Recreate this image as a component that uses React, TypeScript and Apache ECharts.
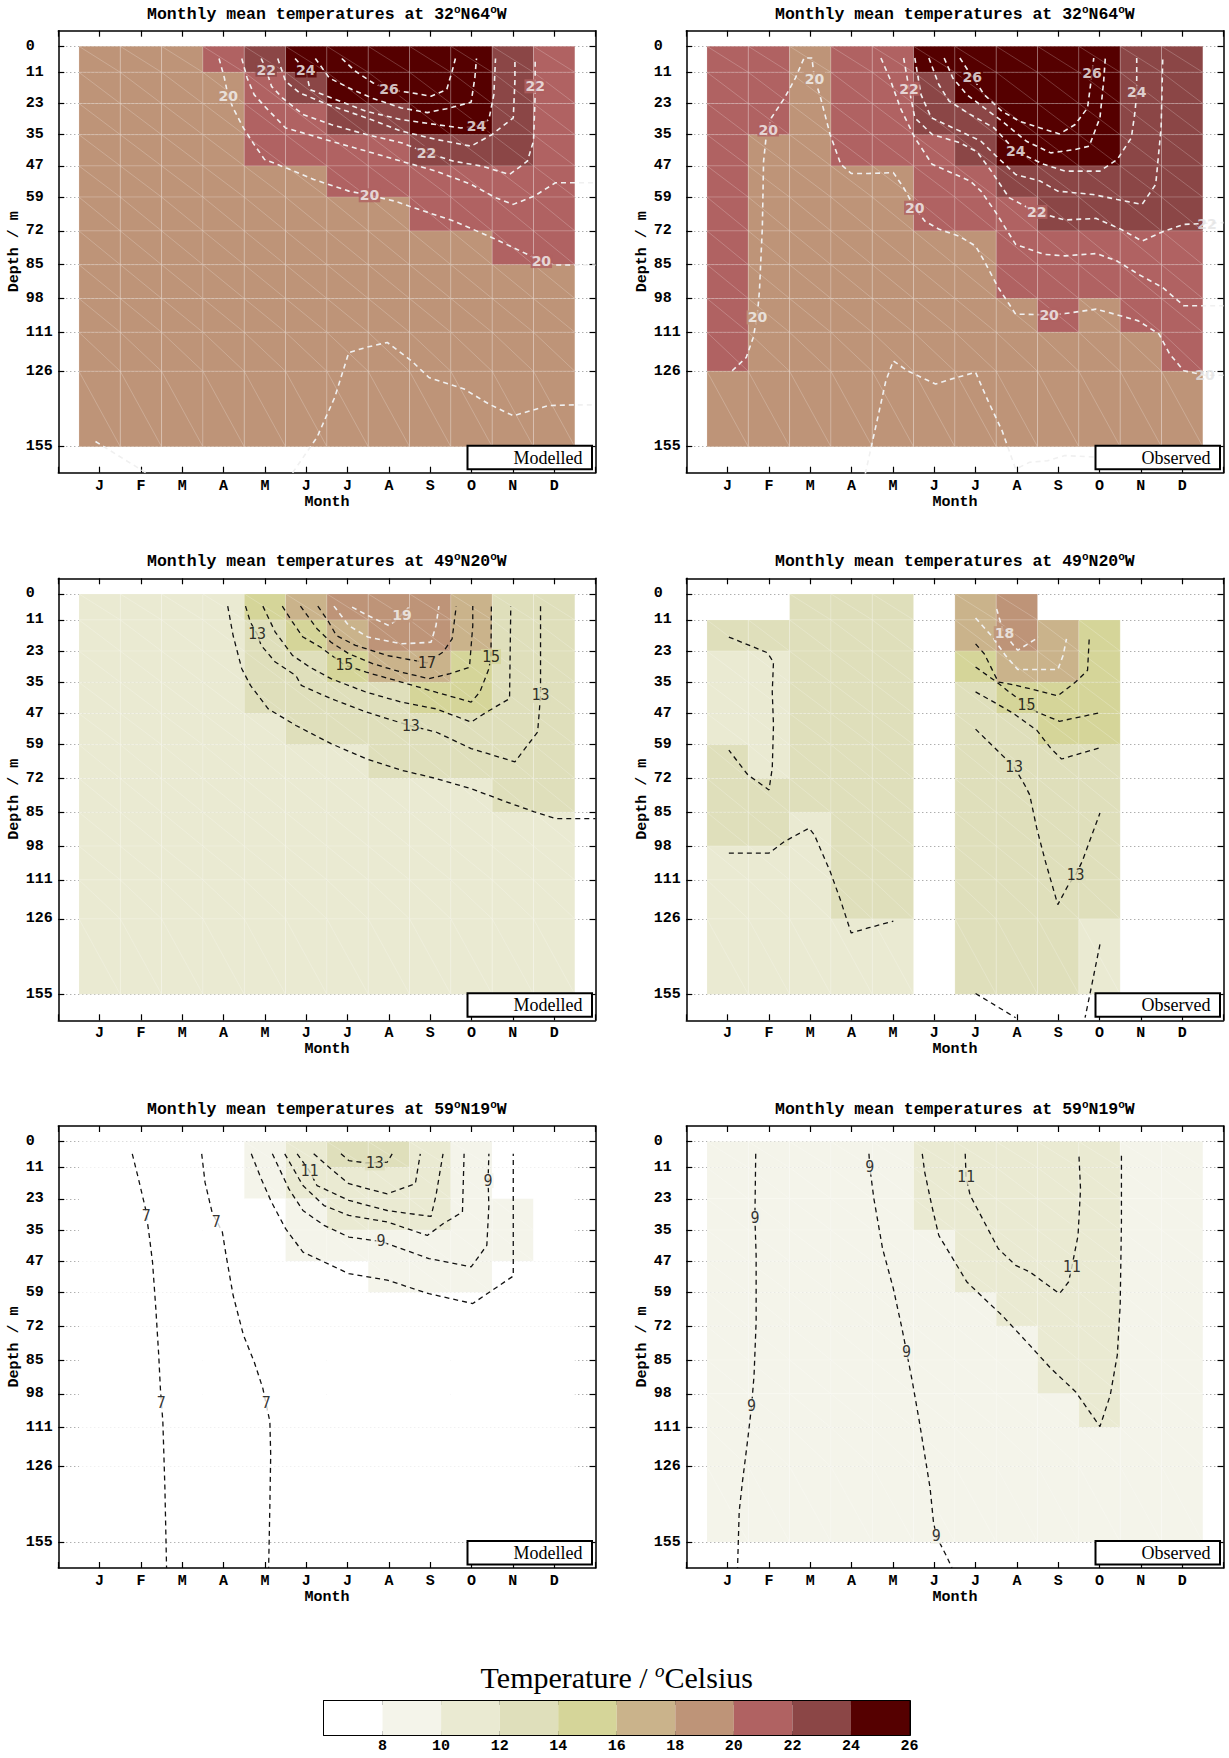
import React, { useEffect, useRef } from 'react';
import * as echarts from 'echarts';

// ---------------- data ----------------
const MONTHS = ['J', 'F', 'M', 'A', 'M', 'J', 'J', 'A', 'S', 'O', 'N', 'D'];
const DEPTH_LEVELS = [1, 11, 23, 35, 47, 59, 72, 85, 98, 111, 126, 155];
const DEPTH_TICK_LABELS = ['0', '11', '23', '35', '47', '59', '72', '85', '98', '111', '126', '155'];
const LEGEND_BREAKS = [6, 8, 10, 12, 14, 16, 18, 20, 22, 24, 26];
const LEGEND_COLORS = ['#ffffff', '#f4f4ea', '#eaead2', '#dfdfbb', '#d5d599', '#cab38b', '#be9478', '#b06262', '#8b4646', '#550000'];
const STATIONS = [['32', '64'], ['49', '20'], ['59', '19']];
const KINDS = ['Modelled', 'Observed'];

// cell temperatures (rows: depth layers top->bottom, cols: J..D), null = no data
const P1_CELLS = [
  [19, 19, 19, 21, 23, 25, 25, 25, 25, 25, 23, 21],
  [19, 19, 19, 19, 21, 23, 25, 25, 25, 25, 23, 21],
  [19, 19, 19, 19, 21, 21, 23, 23, 25, 25, 23, 21],
  [19, 19, 19, 19, 21, 21, 21, 21, 23, 23, 23, 21],
  [19, 19, 19, 19, 19, 19, 21, 21, 21, 21, 21, 21],
  [19, 19, 19, 19, 19, 19, 19, 19, 21, 21, 21, 21],
  [19, 19, 19, 19, 19, 19, 19, 19, 19, 19, 21, 21],
  [19, 19, 19, 19, 19, 19, 19, 19, 19, 19, 19, 19],
  [19, 19, 19, 19, 19, 19, 19, 19, 19, 19, 19, 19],
  [19, 19, 19, 19, 19, 19, 19, 19, 19, 19, 19, 19],
  [19, 19, 19, 19, 19, 19, 19, 19, 19, 19, 19, 19],
];
const P2_CELLS = [
  [21, 21, 19, 21, 21, 25, 25, 25, 25, 25, 23, 23],
  [21, 21, 19, 21, 21, 23, 25, 25, 25, 25, 23, 23],
  [21, 21, 19, 21, 21, 23, 23, 25, 25, 25, 23, 23],
  [21, 19, 19, 21, 21, 21, 23, 25, 25, 25, 23, 23],
  [21, 19, 19, 19, 19, 21, 21, 23, 23, 23, 23, 23],
  [21, 19, 19, 19, 19, 21, 21, 21, 23, 23, 23, 23],
  [21, 19, 19, 19, 19, 19, 19, 21, 21, 21, 21, 21],
  [21, 19, 19, 19, 19, 19, 19, 21, 21, 21, 21, 21],
  [21, 19, 19, 19, 19, 19, 19, 19, 21, 19, 21, 21],
  [21, 19, 19, 19, 19, 19, 19, 19, 19, 19, 19, 21],
  [19, 19, 19, 19, 19, 19, 19, 19, 19, 19, 19, 19],
];
const P3_CELLS = [
  [11, 11, 11, 11, 15, 17, 19, 19, 19, 17, 13, 13],
  [11, 11, 11, 11, 13, 15, 17, 19, 19, 17, 13, 13],
  [11, 11, 11, 11, 13, 13, 15, 17, 17, 15, 13, 13],
  [11, 11, 11, 11, 13, 13, 13, 13, 15, 15, 13, 13],
  [11, 11, 11, 11, 11, 13, 13, 13, 13, 13, 13, 13],
  [11, 11, 11, 11, 11, 11, 11, 13, 13, 13, 13, 13],
  [11, 11, 11, 11, 11, 11, 11, 11, 11, 11, 13, 13],
  [11, 11, 11, 11, 11, 11, 11, 11, 11, 11, 11, 11],
  [11, 11, 11, 11, 11, 11, 11, 11, 11, 11, 11, 11],
  [11, 11, 11, 11, 11, 11, 11, 11, 11, 11, 11, 11],
  [11, 11, 11, 11, 11, 11, 11, 11, 11, 11, 11, 11],
];
const P4_CELLS = [
  [null, null, 13, 13, 13, null, 17, 19, null, null, null, null],
  [13, 13, 13, 13, 13, null, 17, 19, 17, 15, null, null],
  [11, 11, 13, 13, 13, null, 15, 17, 17, 15, null, null],
  [11, 11, 13, 13, 13, null, 13, 15, 15, 15, null, null],
  [11, 11, 13, 13, 13, null, 13, 13, 15, 15, null, null],
  [13, 11, 13, 13, 13, null, 13, 13, 13, 13, null, null],
  [13, 13, 13, 13, 13, null, 13, 13, 13, 13, null, null],
  [13, 13, 11, 13, 13, null, 13, 13, 13, 13, null, null],
  [11, 11, 11, 13, 13, null, 13, 13, 13, 13, null, null],
  [11, 11, 11, 13, 13, null, 13, 13, 13, 13, null, null],
  [11, 11, 11, 11, 11, null, 13, 13, 13, 11, null, null],
];
const P5_CELLS = [
  [7, 7, 7, 7, 9, 11, 13, 13, 11, 9, 7, 7],
  [7, 7, 7, 7, 9, 11, 11, 11, 11, 9, 7, 7],
  [7, 7, 7, 7, 7, 9, 11, 11, 11, 9, 9, 7],
  [7, 7, 7, 7, 7, 9, 9, 9, 9, 9, 9, 7],
  [7, 7, 7, 7, 7, 7, 7, 9, 9, 9, 7, 7],
  [7, 7, 7, 7, 7, 7, 7, 7, 7, 7, 7, 7],
  [7, 7, 7, 7, 7, 7, 7, 7, 7, 7, 7, 7],
  [7, 7, 7, 7, 7, 7, 7, 7, 7, 7, 7, 7],
  [7, 7, 7, 7, 7, 7, 7, 7, 7, 7, 7, 7],
  [7, 7, 7, 7, 7, 7, 7, 7, 7, 7, 7, 7],
  [7, 7, 7, 7, 7, 7, 7, 7, 7, 7, 7, 7],
];
const P6_CELLS = [
  [9, 9, 9, 9, 9, 11, 11, 11, 11, 11, 9, 9],
  [9, 9, 9, 9, 9, 11, 11, 11, 11, 11, 9, 9],
  [9, 9, 9, 9, 9, 11, 11, 11, 11, 11, 9, 9],
  [9, 9, 9, 9, 9, 9, 11, 11, 11, 11, 9, 9],
  [9, 9, 9, 9, 9, 9, 11, 11, 11, 11, 9, 9],
  [9, 9, 9, 9, 9, 9, 9, 11, 11, 11, 9, 9],
  [9, 9, 9, 9, 9, 9, 9, 9, 11, 11, 9, 9],
  [9, 9, 9, 9, 9, 9, 9, 9, 11, 11, 9, 9],
  [9, 9, 9, 9, 9, 9, 9, 9, 9, 11, 9, 9],
  [9, 9, 9, 9, 9, 9, 9, 9, 9, 9, 9, 9],
  [9, 9, 9, 9, 9, 9, 9, 9, 9, 9, 9, 9],
];

// contour lines: [month, depth] points
const P1_CONTOURS = [
  { level: 19, pts: [[0.9, 153], [2.12, 165]] },
  { level: 19, pts: [[5.67, 165], [6.26, 151.4], [6.69, 136], [7.03, 118.8], [7.45, 116.8], [7.96, 114.9], [8.55, 122], [8.97, 128.4], [9.82, 132.8], [10.42, 138.6], [11.01, 143.1], [11.86, 139.2], [12.53, 138.9], [13, 138.9]] },
  { level: 20, pts: [[3.89, 5.7], [4.02, 13.2], [4.11, 20.2], [4.23, 24.7], [4.48, 32.4], [4.74, 38.8], [4.99, 44.5], [5.5, 47.7], [6.18, 52.2], [7.03, 56.7], [7.53, 58.3], [8.13, 60.5], [8.72, 63.7], [9.57, 68.2], [10.5, 74.6], [11.18, 79.7], [11.69, 83.6], [12.03, 85.1], [13, 85.1]] },
  { level: 21, pts: [[4.44, 5.7], [4.57, 13.2], [4.74, 19.6], [5.03, 24.7], [5.5, 32.4], [5.92, 34.3], [6.6, 37.5], [7.45, 41.3], [8.3, 45.2], [9.14, 49], [9.99, 54.1], [10.58, 59.2], [11.01, 61.8], [11.52, 58.6], [12.03, 53.5], [13, 53.5]] },
  { level: 22, pts: [[4.91, 5.7], [5.03, 10], [5.16, 16.4], [5.42, 20.8], [5.92, 27.2], [6.6, 31.1], [7.45, 34.9], [8.3, 38.1], [8.93, 42], [9.57, 45.2], [10.25, 47.1], [10.92, 50.3], [11.35, 45.2], [11.5, 37.5], [11.54, 19.6], [11.54, 5.7]] },
  { level: 23, pts: [[5.31, 5.7], [5.5, 14.4], [5.84, 18.9], [6.52, 23.4], [7.45, 28.5], [8.3, 33.6], [9.14, 36.8], [9.99, 39.4], [10.5, 34.9], [11.01, 28.5], [11.05, 14.4], [11.05, 5.7]] },
  { level: 24, pts: [[5.73, 5.7], [5.99, 10.3], [6.09, 17.6], [6.6, 20.8], [7.45, 26], [8.3, 29.2], [9.14, 31.1], [9.74, 32.4], [10.12, 31.7], [10.42, 29.2], [10.54, 19.6], [10.58, 5.7]] },
  { level: 25, pts: [[6.22, 5.7], [6.56, 13.2], [7.11, 17.6], [7.62, 21.1], [8.3, 24.7], [8.93, 26.5], [9.4, 25], [9.99, 22.5], [10.08, 13.2], [10.12, 5.7]] },
  { level: 26, pts: [[6.86, 5.7], [7.19, 10.6], [7.62, 15.1], [8.0, 17.6], [8.55, 18.9], [9.02, 20.2], [9.4, 17.6], [9.53, 10.6], [9.61, 5.7]] },
];
const P1_LABELS = [
  [4.11, 20.2, '20'], [7.53, 58.3, '20'], [11.69, 83.6, '20'],
  [5.03, 10, '22'], [8.91, 42, '22'], [11.54, 16.4, '22'],
  [5.99, 10.3, '24'], [10.12, 31.7, '24'], [8.0, 17.6, '26'],
];

const P2_CONTOURS = [
  { level: 19, pts: [[4.33, 165.5], [4.58, 147.6], [4.83, 129.6], [5.01, 122], [5.35, 125.8], [6.03, 130.9], [6.54, 128.4], [7.0, 126.4], [7.3, 137.3], [7.64, 148.8], [7.97, 163.6], [8.31, 161], [8.74, 160.4], [9.16, 158.4], [10.01, 159.1]] },
  { level: 20, pts: [[1.11, 125.8], [1.45, 120.7], [1.62, 113], [1.72, 104.3], [1.77, 95], [1.84, 70.8], [1.87, 45.2], [1.93, 36.2], [1.98, 33], [2.06, 28.5], [2.38, 20.8], [2.64, 13.2], [2.85, 5.5], [3.04, 5.5], [3.1, 13.4], [3.23, 19.6], [3.48, 34.9], [3.74, 46.4], [3.99, 49.9], [4.41, 49.9], [5.01, 49.6], [5.26, 55.4], [5.53, 63.1], [5.77, 68.2], [6.12, 71.4], [6.6, 74], [7.0, 77.8], [7.21, 83.6], [7.55, 93.8], [7.97, 104], [8.78, 104.3], [9.16, 103.8], [9.92, 102.1], [10.43, 104.3], [10.94, 106.6], [11.44, 111.7], [11.7, 119.4], [12.04, 125.8], [12.55, 127.5], [13, 127.5]] },
  { level: 21, pts: [[4.71, 5.5], [4.92, 13.2], [5.18, 24.7], [5.53, 36.2], [5.95, 46.4], [6.87, 52.8], [7.13, 56.7], [7.47, 64.4], [7.97, 77.2], [8.65, 81], [9.16, 81.6], [9.92, 80.7], [10.43, 83.6], [10.94, 88.7], [11.53, 93.8], [12.04, 100.8], [13, 100.8]] },
  { level: 22, pts: [[5.26, 5.5], [5.39, 17.3], [5.53, 28.5], [5.95, 34.9], [6.62, 38.1], [7.04, 41.6], [7.38, 49], [7.81, 59.2], [8.46, 64.7], [9.16, 67.8], [9.92, 67.2], [10.52, 71.4], [11.03, 75.9], [11.53, 72.3], [12.04, 69.5], [13, 68.8]] },
  { level: 23, pts: [[5.53, 5.5], [5.68, 19.6], [5.93, 28.5], [6.62, 33.6], [7.13, 37.5], [7.55, 44], [7.97, 50.3], [8.56, 52.8], [8.99, 56.7], [9.84, 58], [10.43, 59.9], [11.03, 61.8], [11.36, 54.1], [11.49, 32.4], [11.53, 5.5]] },
  { level: 24, pts: [[5.87, 5.5], [6.11, 15.7], [6.36, 22.1], [6.87, 27.2], [7.45, 32.4], [7.97, 41.3], [8.65, 46.4], [9.16, 49], [10.01, 49], [10.43, 44.5], [10.77, 36.2], [10.86, 26], [10.9, 18.7], [10.9, 5.5]] },
  { level: 25, pts: [[6.24, 5.5], [6.45, 13.2], [6.79, 19.6], [7.21, 24.7], [7.64, 29.8], [8.23, 37.5], [8.82, 42], [9.41, 40.7], [9.75, 39.4], [10.01, 28.5], [10.1, 14.4], [10.14, 5.5]] },
  { level: 26, pts: [[6.62, 5.5], [6.92, 12.8], [7.21, 19.6], [7.64, 26], [8.06, 29.8], [8.57, 32.4], [9.03, 34.7], [9.41, 31.1], [9.71, 24.7], [9.82, 11.2], [9.86, 5.5]] },
];
const P2_LABELS = [
  [1.72, 105.3, '20'], [1.98, 33, '20'], [3.1, 13.4, '20'], [5.53, 63.1, '20'], [8.78, 104.3, '20'], [12.55, 127.5, '20'],
  [5.39, 17.3, '22'], [8.48, 64.7, '22'], [12.6, 69.2, '22'],
  [7.97, 41.3, '24'], [10.9, 18.7, '24'],
  [6.92, 12.8, '26'], [9.82, 11.2, '26'],
];

const P3_CONTOURS = [
  { level: 12, pts: [[4.1, 5.7], [4.23, 17], [4.44, 29.8], [4.65, 36.2], [5.08, 45.2], [5.75, 51.6], [6.6, 58.6], [7.45, 64.4], [8.3, 68.8], [9.14, 72], [9.99, 75.9], [10.84, 81], [11.52, 84.8], [12.03, 87.4], [13, 87.4]] },
  { level: 13, pts: [[4.53, 5.7], [4.65, 11.9], [4.81, 16.4], [4.91, 20.8], [5.25, 27.2], [5.75, 32.4], [5.88, 36.2], [6.6, 41.3], [7.45, 46.4], [8.53, 51.8], [9.14, 54.1], [9.99, 60.5], [11.05, 65.6], [11.6, 54.1], [11.67, 40], [11.67, 5.7]] },
  { level: 14, pts: [[4.95, 5.7], [5.25, 15.7], [5.67, 24.7], [6.09, 29.2], [6.6, 33.6], [7.45, 38.8], [8.3, 42.6], [9.14, 45.2], [9.99, 50.3], [10.37, 46.4], [10.92, 41.3], [10.95, 5.7]] },
  { level: 15, pts: [[5.42, 5.7], [5.67, 11.9], [5.92, 17.6], [6.35, 21.5], [6.92, 28.3], [7.45, 31.1], [8.3, 34.9], [9.14, 38.8], [9.99, 42.6], [10.2, 38.8], [10.42, 29.8], [10.47, 25.1], [10.48, 5.7]] },
  { level: 16, pts: [[5.86, 5.7], [6.26, 14.4], [6.6, 19.6], [7.03, 24], [7.62, 27.9], [8.3, 31.1], [8.97, 33.6], [9.48, 31.7], [9.95, 29.2], [10.03, 13.2], [10.03, 5.7]] },
  { level: 17, pts: [[6.28, 5.7], [6.52, 11.2], [6.73, 17], [7.19, 20.8], [7.96, 24.7], [8.92, 27.5], [9.31, 23.4], [9.53, 18.3], [9.63, 5.7]] },
  { level: 18, pts: [[6.67, 5.7], [7.03, 13.2], [7.49, 17.6], [8.3, 20.2], [9.02, 19.6], [9.14, 13.2], [9.21, 5.7]] },
  { level: 19, pts: [[7.11, 6.1], [7.49, 9.3], [8.0, 13.2], [8.17, 11.2], [8.51, 5.7]] },
];
const P3_LABELS = [
  [4.81, 16.4, '13'], [8.53, 51.8, '13'], [11.67, 40, '13'],
  [6.92, 28.3, '15'], [10.47, 25.1, '15'], [8.92, 27.5, '17'], [8.32, 9.3, '19'],
];

const P4_CONTOURS = [
  { level: 12, pts: [[1.03, 17.6], [1.96, 23.6], [2.11, 27.2], [2.08, 38.7], [2.11, 51.5], [2.08, 68.1], [2.0, 76.4], [1.49, 70.6], [1.03, 61.1]] },
  { level: 12, pts: [[1.03, 100.7], [2.0, 100.7], [2.38, 96.2], [2.97, 91.1], [3.1, 93.7], [3.48, 107.7], [3.74, 119.2], [3.99, 131.4], [4.42, 129.4], [5.01, 126.9]] },
  { level: 17, pts: [[7.0, 10.3], [7.38, 17], [7.72, 24.6], [8.02, 30.1], [8.99, 30.1], [9.12, 24.6], [9.2, 18.3]] },
  { level: 18, pts: [[7.51, 6.8], [7.68, 16.1], [8.02, 22.7], [8.53, 17.6]] },
  { level: 16, pts: [[7.0, 20.2], [7.21, 24], [7.55, 34.9], [7.97, 36.1], [8.99, 40.2], [9.42, 34.9], [9.71, 30.4], [9.75, 18.3]] },
  { level: 15, pts: [[7.0, 29.1], [7.51, 34.9], [7.81, 38.7], [8.23, 43.6], [8.48, 46.4], [9.03, 50], [10.01, 46.7]] },
  { level: 14, pts: [[7.0, 38.7], [7.51, 43.2], [7.89, 46.7], [8.48, 53.4], [8.82, 60.4], [9.08, 64.5], [10.01, 60.2]] },
  { level: 13, pts: [[7.0, 53], [7.64, 63], [7.93, 67.5], [8.19, 74.5], [8.31, 78.3], [8.48, 91.1], [8.69, 103.9], [8.99, 120.5], [9.25, 112.8], [9.42, 109.2], [9.58, 103.9], [10.01, 85.3]] },
  { level: 13, pts: [[7.0, 154.7], [7.97, 164]] },
  { level: 13, pts: [[10.01, 135.8], [9.8, 152.4], [9.65, 164]] },
];
const P4_LABELS = [[7.7, 16.1, '18'], [8.23, 43.6, '15'], [7.93, 67.5, '13'], [9.42, 109.2, '13']];

const P5_CONTOURS = [
  { level: 7, pts: [[1.79, 5.7], [1.94, 15.3], [2.11, 26.8], [2.19, 35.8], [2.28, 47.3], [2.36, 65.2], [2.43, 83.1], [2.47, 95.9], [2.53, 108.7], [2.58, 134.3], [2.62, 165]] },
  { level: 7, pts: [[3.47, 5.7], [3.55, 16.6], [3.72, 28.1], [3.97, 35.8], [4.06, 44.7], [4.23, 60.1], [4.48, 75.4], [4.74, 85.7], [4.95, 95.9], [5.12, 108.7], [5.14, 121.5], [5.12, 140.7], [5.09, 165]] },
  { level: 8, pts: [[4.67, 5.7], [4.91, 15.3], [5.16, 24.3], [5.5, 34.5], [5.92, 43.5], [6.26, 46], [7.03, 51.8], [7.96, 54.3], [8.97, 59.5], [10.03, 63.3], [10.5, 58.2], [11.01, 52.7], [11.01, 33], [11.01, 5.7]] },
  { level: 9, pts: [[5.18, 5.7], [5.58, 19.2], [5.92, 27.5], [6.43, 33.2], [7.03, 37.7], [7.81, 39.4], [8.97, 46], [9.99, 49.2], [10.37, 40.9], [10.42, 25.6], [10.4, 16], [10.42, 5.7]] },
  { level: 10, pts: [[5.48, 5.7], [5.92, 17.9], [6.43, 25.6], [7.03, 29.4], [7.96, 31.9], [8.93, 37.1], [9.31, 32.6], [9.78, 28.1], [9.82, 5.7]] },
  { level: 11, pts: [[5.78, 5.7], [6.08, 12.4], [6.26, 17.9], [7.03, 23.6], [7.96, 27.5], [9.02, 29.8], [9.14, 21.7], [9.31, 5.7]] },
  { level: 12, pts: [[6.18, 5.7], [6.6, 11.5], [7.03, 17.2], [7.96, 21.1], [8.64, 17.2], [8.76, 5.7]] },
  { level: 13, pts: [[6.84, 5.7], [7.03, 8.3], [7.45, 9.2], [7.96, 8.9], [8.08, 5.7]] },
];
const P5_LABELS = [
  [2.13, 29.8, '7'], [2.49, 101.7, '7'], [3.82, 32, '7'], [5.03, 101.4, '7'],
  [7.81, 39.4, '9'], [10.4, 16, '9'], [6.08, 12.4, '11'], [7.66, 9.2, '13'],
];

const P6_CONTOURS = [
  { level: 9, pts: [[1.68, 5.7], [1.66, 30.3], [1.69, 44.7], [1.69, 70.3], [1.64, 90.8], [1.58, 102.6], [1.49, 115.1], [1.36, 131.7], [1.28, 143.2], [1.24, 165]] },
  { level: 9, pts: [[4.42, 5.7], [4.44, 10.8], [4.54, 23], [4.75, 42.2], [5.01, 57.5], [5.22, 72.9], [5.33, 81.8], [5.47, 93.3], [5.64, 108.7], [5.77, 121.5], [5.9, 134.3], [5.98, 147.1], [6.05, 152.8], [6.28, 159.9], [6.43, 165]] },
  { level: 10, pts: [[5.71, 5.7], [5.77, 12.8], [5.94, 25.6], [6.11, 37.1], [6.45, 46], [6.79, 55], [7.21, 61.4], [7.64, 67.8], [8.31, 79.3], [8.82, 88.2], [9.42, 97.2], [10.01, 110.6], [10.26, 98.5], [10.43, 83.1], [10.5, 63.9], [10.53, 31.9], [10.53, 6.4]] },
  { level: 11, pts: [[6.75, 5.7], [6.77, 14.7], [6.87, 21.7], [7.21, 31.9], [7.55, 42.2], [7.97, 48.6], [8.31, 51.1], [9.03, 59.5], [9.25, 55], [9.33, 49.2], [9.48, 37.1], [9.54, 19.2], [9.5, 5.7]] },
];
const P6_LABELS = [
  [1.66, 30.3, '9'], [1.58, 102.6, '9'], [4.44, 10.8, '9'], [5.33, 81.8, '9'], [6.05, 152.8, '9'],
  [6.77, 14.7, '11'], [9.33, 49.2, '11'],
];

// ---------------- layout / style ----------------
const MONO = "'Liberation Mono', 'DejaVu Sans Mono', monospace";
const SERIF = "'Liberation Serif', 'DejaVu Serif', serif";
const GRID_LEFTS = [58.3, 686.3];
const GRID_TOPS = [30.7, 578.3, 1126];
const GRID_W = 537.2;
const GRID_H = 442;
const LIGHT = '#f0f0f0';
const DARK = '#111111';

const PANELS = [
  { cells: P1_CELLS, contours: P1_CONTOURS, labels: P1_LABELS, whiteFrom: 0 },
  { cells: P2_CELLS, contours: P2_CONTOURS, labels: P2_LABELS, whiteFrom: 0 },
  { cells: P3_CELLS, contours: P3_CONTOURS, labels: P3_LABELS, whiteFrom: 18 },
  { cells: P4_CELLS, contours: P4_CONTOURS, labels: P4_LABELS, whiteFrom: 17 },
  { cells: P5_CELLS, contours: P5_CONTOURS, labels: P5_LABELS, whiteFrom: 99 },
  { cells: P6_CELLS, contours: P6_CONTOURS, labels: P6_LABELS, whiteFrom: 99 },
];

function cellColor(t: number) {
  for (let i = 0; i < LEGEND_COLORS.length; i++) {
    if (t < LEGEND_BREAKS[i + 1]) return LEGEND_COLORS[i];
  }
  return LEGEND_COLORS[LEGEND_COLORS.length - 1];
}

// colour of the cell under a point (used to cut the contour behind its label);
// labels straddling the edge of the cell block get no background
function colorAt(matrix: (number | null)[][], m: number, d: number) {
  if (m > 12.3 || m < 0.7) return 'transparent';
  const c = Math.min(11, Math.max(0, Math.round(m) - 1));
  let r = -1;
  for (let k = 0; k < DEPTH_LEVELS.length - 1; k++) {
    if (d >= DEPTH_LEVELS[k] && d < DEPTH_LEVELS[k + 1]) r = k;
  }
  if (r < 0) return '#ffffff';
  const t = matrix[r][c];
  return t === null || t === undefined ? '#ffffff' : cellColor(t);
}

function cellData(matrix: (number | null)[][]) {
  const out: number[][] = [];
  matrix.forEach((row, r) =>
    row.forEach((t, c) => {
      if (t !== null && t !== undefined) out.push([c + 1, DEPTH_LEVELS[r], DEPTH_LEVELS[r + 1], t]);
    })
  );
  return out;
}

function depthLabel(v: number) {
  const k = DEPTH_LEVELS.findIndex((d) => Math.abs(d - v) < 1e-6);
  return k >= 0 ? DEPTH_TICK_LABELS[k] : '';
}

const tickFont = { color: '#000', fontFamily: MONO, fontWeight: 'bold' as const, fontSize: 15 };

function buildOption() {
  const grid: any[] = [];
  const xAxis: any[] = [];
  const yAxis: any[] = [];
  const series: any[] = [];
  const graphic: any[] = [];

  PANELS.forEach((p, i) => {
    const left = GRID_LEFTS[i % 2];
    const top = GRID_TOPS[Math.floor(i / 2)];
    grid.push({ left, top, width: GRID_W, height: GRID_H, containLabel: false });
    const axisLine = { show: true, onZero: false, lineStyle: { color: '#000', width: 1.5 } };
    xAxis.push({
      type: 'value', gridIndex: i, position: 'bottom', min: 0, max: 13, interval: 1,
      axisLine, axisTick: { show: true, inside: true, length: 6, lineStyle: { color: '#000', width: 1.2 } },
      axisLabel: { show: true, margin: 6, formatter: (v: number) => MONTHS[v - 1] ?? '', ...tickFont },
      splitLine: { show: false },
      name: 'Month', nameLocation: 'middle', nameGap: 19, nameTextStyle: { ...tickFont },
    });
    xAxis.push({
      type: 'value', gridIndex: i, position: 'top', min: 0, max: 13, interval: 1,
      axisLine, axisTick: { show: true, inside: true, length: 6, lineStyle: { color: '#000', width: 1.2 } },
      axisLabel: { show: false }, splitLine: { show: false },
    });
    yAxis.push({
      type: 'value', gridIndex: i, position: 'left', inverse: true, min: -5, max: 165,
      axisLine,
      axisTick: { show: true, inside: true, length: 6, customValues: DEPTH_LEVELS, lineStyle: { color: '#000', width: 1.2 } },
      axisLabel: { show: true, customValues: DEPTH_LEVELS, formatter: depthLabel, align: 'left', margin: 32.6, ...tickFont },
      splitLine: { show: true, lineStyle: { color: '#8c8c8c', width: 1, type: [1, 3] } },
      name: 'Depth / m', nameLocation: 'middle', nameGap: 34, nameRotate: 90, nameTextStyle: { ...tickFont },
    });
    yAxis.push({
      type: 'value', gridIndex: i, position: 'right', inverse: true, min: -5, max: 165,
      axisLine,
      axisTick: { show: true, inside: true, length: 6, customValues: DEPTH_LEVELS, lineStyle: { color: '#000', width: 1.2 } },
      axisLabel: { show: false }, splitLine: { show: false },
    });

    series.push({
      type: 'custom', xAxisIndex: 2 * i, yAxisIndex: 2 * i, z: 1, silent: true, clip: true,
      data: cellData(p.cells), encode: { x: 0, y: [1, 2] },
      renderItem: (_params: any, api: any) => {
        const m = api.value(0), d0 = api.value(1), d1 = api.value(2), t = api.value(3);
        const a = api.coord([m - 0.5, d0]);
        const b = api.coord([m + 0.5, d1]);
        const x = Math.min(a[0], b[0]), y = Math.min(a[1], b[1]);
        const w = Math.abs(b[0] - a[0]), h = Math.abs(b[1] - a[1]);
        return {
          type: 'group',
          children: [
            { type: 'rect', shape: { x, y, width: w, height: h }, style: { fill: cellColor(t), stroke: 'rgba(255,255,255,0.22)', lineWidth: 0.8 } },
            { type: 'line', shape: { x1: x, y1: y, x2: x + w, y2: y + h }, style: { stroke: 'rgba(255,255,255,0.35)', lineWidth: 0.6 } },
          ],
        };
      },
    });

    p.contours.forEach((c) => {
      const white = c.level >= p.whiteFrom;
      series.push({
        type: 'line', xAxisIndex: 2 * i, yAxisIndex: 2 * i, z: 3, silent: true,
        data: c.pts, showSymbol: false, symbol: 'none', smooth: false,
        lineStyle: { color: white ? LIGHT : DARK, width: white ? 1.6 : 1.3, type: [5, 4] },
      });
    });

    series.push({
      type: 'scatter', xAxisIndex: 2 * i, yAxisIndex: 2 * i, z: 4, silent: true,
      symbolSize: 1, itemStyle: { color: 'rgba(0,0,0,0)' },
      data: p.labels.map((l) => {
        const white = Number(l[2]) >= p.whiteFrom;
        const bg = colorAt(p.cells, l[0] as number, l[1] as number);
        const edge = bg === 'transparent';
        return {
          name: l[2], value: [l[0], l[1]],
          label: white
            ? { color: edge ? '#e4e4e4' : '#f4f4f4', fontFamily: "'DejaVu Sans', sans-serif", fontWeight: 'bold', fontSize: 14, backgroundColor: bg, padding: [0, 1] }
            : { color: '#000', fontFamily: "'DejaVu Sans Mono', monospace", fontWeight: 'normal', fontSize: 15, backgroundColor: bg, padding: [0, 1] },
        };
      }),
      label: { show: true, position: 'inside', formatter: '{b}' },
    });

    const st = STATIONS[Math.floor(i / 2)];
    graphic.push({
      type: 'text', x: left + GRID_W / 2, y: top - 16.7, z: 10,
      style: {
        text: `Monthly mean temperatures at ${st[0]}{s|o}N${st[1]}{s|o}W`,
        fontFamily: MONO, fontWeight: 'bold', fontSize: 16.5, fill: '#000', lineHeight: 20,
        align: 'center', verticalAlign: 'middle',
        rich: { s: { fontFamily: MONO, fontWeight: 'bold', fontSize: 11, lineHeight: 12, verticalAlign: 'top', fill: '#000' } },
      },
    });
    const bx = left + 409.2, by = top + 415;
    graphic.push({
      type: 'rect', z: 20, shape: { x: bx, y: by, width: 124.5, height: 23.5 },
      style: { fill: '#fff', stroke: '#000', lineWidth: 2 },
    });
    graphic.push({
      type: 'text', z: 21, x: bx + 124.5 - 9.5, y: by + 12,
      style: { text: KINDS[i % 2], fontFamily: SERIF, fontSize: 18, fill: '#000', align: 'right', verticalAlign: 'middle' },
    });
  });

  // colour bar
  const ci = PANELS.length;
  grid.push({ left: 324, top: 1701, width: 585.5, height: 34, containLabel: false });
  const barLine = { show: true, onZero: false, lineStyle: { color: '#000', width: 2 } };
  xAxis.push({
    type: 'value', gridIndex: ci, position: 'bottom', min: LEGEND_BREAKS[0], max: LEGEND_BREAKS[LEGEND_BREAKS.length - 1], interval: 2,
    axisLine: barLine, axisTick: { show: true, inside: true, length: 4, lineStyle: { color: '#000', width: 1.5 } },
    axisLabel: { show: true, margin: 4, formatter: (v: number) => (v === LEGEND_BREAKS[0] ? '' : String(v)), ...tickFont },
    splitLine: { show: false },
  });
  xAxis.push({
    type: 'value', gridIndex: ci, position: 'top', min: LEGEND_BREAKS[0], max: LEGEND_BREAKS[LEGEND_BREAKS.length - 1], interval: 2,
    axisLine: barLine, axisTick: { show: true, inside: true, length: 4, lineStyle: { color: '#000', width: 1.5 } },
    axisLabel: { show: false }, splitLine: { show: false },
  });
  yAxis.push({ type: 'value', gridIndex: ci, position: 'left', min: 0, max: 1, axisLine: barLine, axisTick: { show: false }, axisLabel: { show: false }, splitLine: { show: false } });
  yAxis.push({ type: 'value', gridIndex: ci, position: 'right', min: 0, max: 1, axisLine: barLine, axisTick: { show: false }, axisLabel: { show: false }, splitLine: { show: false } });
  series.push({
    type: 'custom', xAxisIndex: 2 * ci, yAxisIndex: 2 * ci, z: 1, silent: true,
    data: LEGEND_COLORS.map((_, k) => [LEGEND_BREAKS[k], LEGEND_BREAKS[k + 1], k]),
    encode: { x: [0, 1] },
    renderItem: (_params: any, api: any) => {
      const a = api.coord([api.value(0), 1]);
      const b = api.coord([api.value(1), 0]);
      return { type: 'rect', shape: { x: a[0], y: a[1], width: b[0] - a[0], height: b[1] - a[1] }, style: { fill: LEGEND_COLORS[api.value(2)] } };
    },
  });
  graphic.push({
    type: 'text', x: 324 + 585.5 / 2, y: 1677, z: 10,
    style: {
      text: 'Temperature / {o|o}Celsius', fontFamily: SERIF, fontSize: 30, fill: '#000', lineHeight: 33,
      align: 'center', verticalAlign: 'middle',
      rich: { o: { fontFamily: SERIF, fontSize: 19, fontStyle: 'italic', lineHeight: 22, verticalAlign: 'top', fill: '#000' } },
    },
  });

  return { animation: false, backgroundColor: '#fff', textStyle: { fontFamily: MONO }, grid, xAxis, yAxis, series, graphic };
}

export default function App() {
  const ref = useRef<HTMLDivElement>(null);
  useEffect(() => {
    if (!ref.current) return;
    const chart = echarts.init(ref.current, undefined, { renderer: 'svg' });
    chart.setOption(buildOption() as any);
    return () => chart.dispose();
  }, []);
  return <div ref={ref} style={{ position: 'absolute', left: 0, top: 0, width: 1229, height: 1758, background: '#fff' }} />;
}
